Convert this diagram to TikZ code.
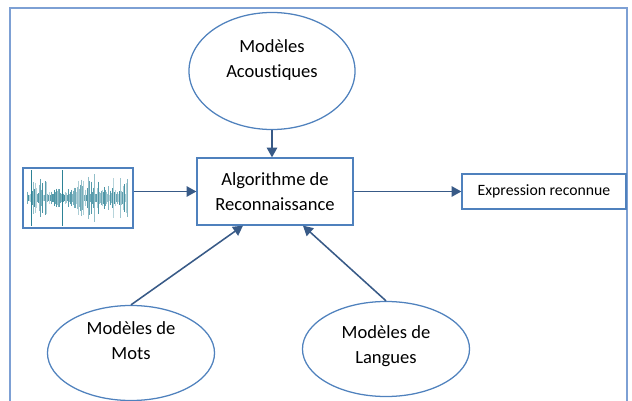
\documentclass[tikz,border=0pt]{standalone}
\usepackage{fontspec}
\setmainfont{Carlito}[Ligatures=NoCommon]
\usetikzlibrary{shapes.geometric, arrows.meta}
\definecolor{bordc}{RGB}{79,129,189}
\definecolor{flec}{RGB}{56,90,135}
\definecolor{cadre}{RGB}{125,160,212}
\definecolor{ondec}{RGB}{45,130,150}

\begin{document}
\begin{tikzpicture}[x=0.025cm, y=-0.025cm,
  modele/.style={draw=bordc, line width=0.9pt, ellipse, align=center, inner sep=0pt, font=\fontsize{13.2}{17.8}\selectfont},
  boite/.style={draw=bordc, line width=0.9pt, rectangle, align=center, inner sep=0pt},
  fleche/.style={draw=flec, line width=1.1pt, -{Triangle[length=7pt, width=7.5pt]}}]
	\useasboundingbox (0,0) rectangle (632,401);
	\draw[cadre, line width=0.8pt] (10,405) -- (10,8) -- (627,8) -- (627,405);
	\node[modele, minimum width=4.15cm, minimum height=2.925cm] (acou) at (272,71) {Modèles\\Acoustiques\\\mbox{}};
	\node[boite, minimum width=3.9cm, minimum height=1.675cm, font=\fontsize{13.2}{17.8}\selectfont] (algo) at (275,191.5) {Algorithme de\\Reconnaissance};
	\node[boite, minimum width=2.75cm, minimum height=1.5cm] (onde) at (78,198) {};
	\node[boite, minimum width=4.1cm, minimum height=0.875cm, font=\fontsize{11.2}{13}\selectfont] (expr) at (544,191.5) {Expression reconnue};
	\node[modele, minimum width=4.175cm, minimum height=2.375cm] (mots) at (131,353) {Modèles de\\Mots\\\mbox{}};
	\node[modele, minimum width=4.175cm, minimum height=2.375cm] (lang) at (386,349) {Modèles de\\Langues\\[-11pt]\mbox{}};
	\pgfmathsetseed{12}
	\foreach \i in {0,...,100} {
		\pgfmathsetmacro\h{3+22*rnd*rnd}
		\pgfmathsetmacro\op{0.3+0.6*rnd}
		\draw[ondec, opacity=\op, line width=0.5pt] (27+\i,198-\h) -- (27+\i,198+\h);
	}
	\draw[ondec, line width=0.6pt] (31,170) -- (31,226);
	\draw[ondec, line width=0.6pt] (62,170) -- (62,226);
	\draw[fleche] (acou.south) -- (acou.south |- algo.north);
	\draw[fleche] (onde.east |- algo) -- (algo.west);
	\draw[fleche] (algo.east) -- (expr.west);
	\draw[fleche] (mots.north) -- ([xshift=-0.8cm]algo.south);
	\draw[fleche] (lang.north) -- ([xshift=0.7cm]algo.south);
\end{tikzpicture}
\end{document}
